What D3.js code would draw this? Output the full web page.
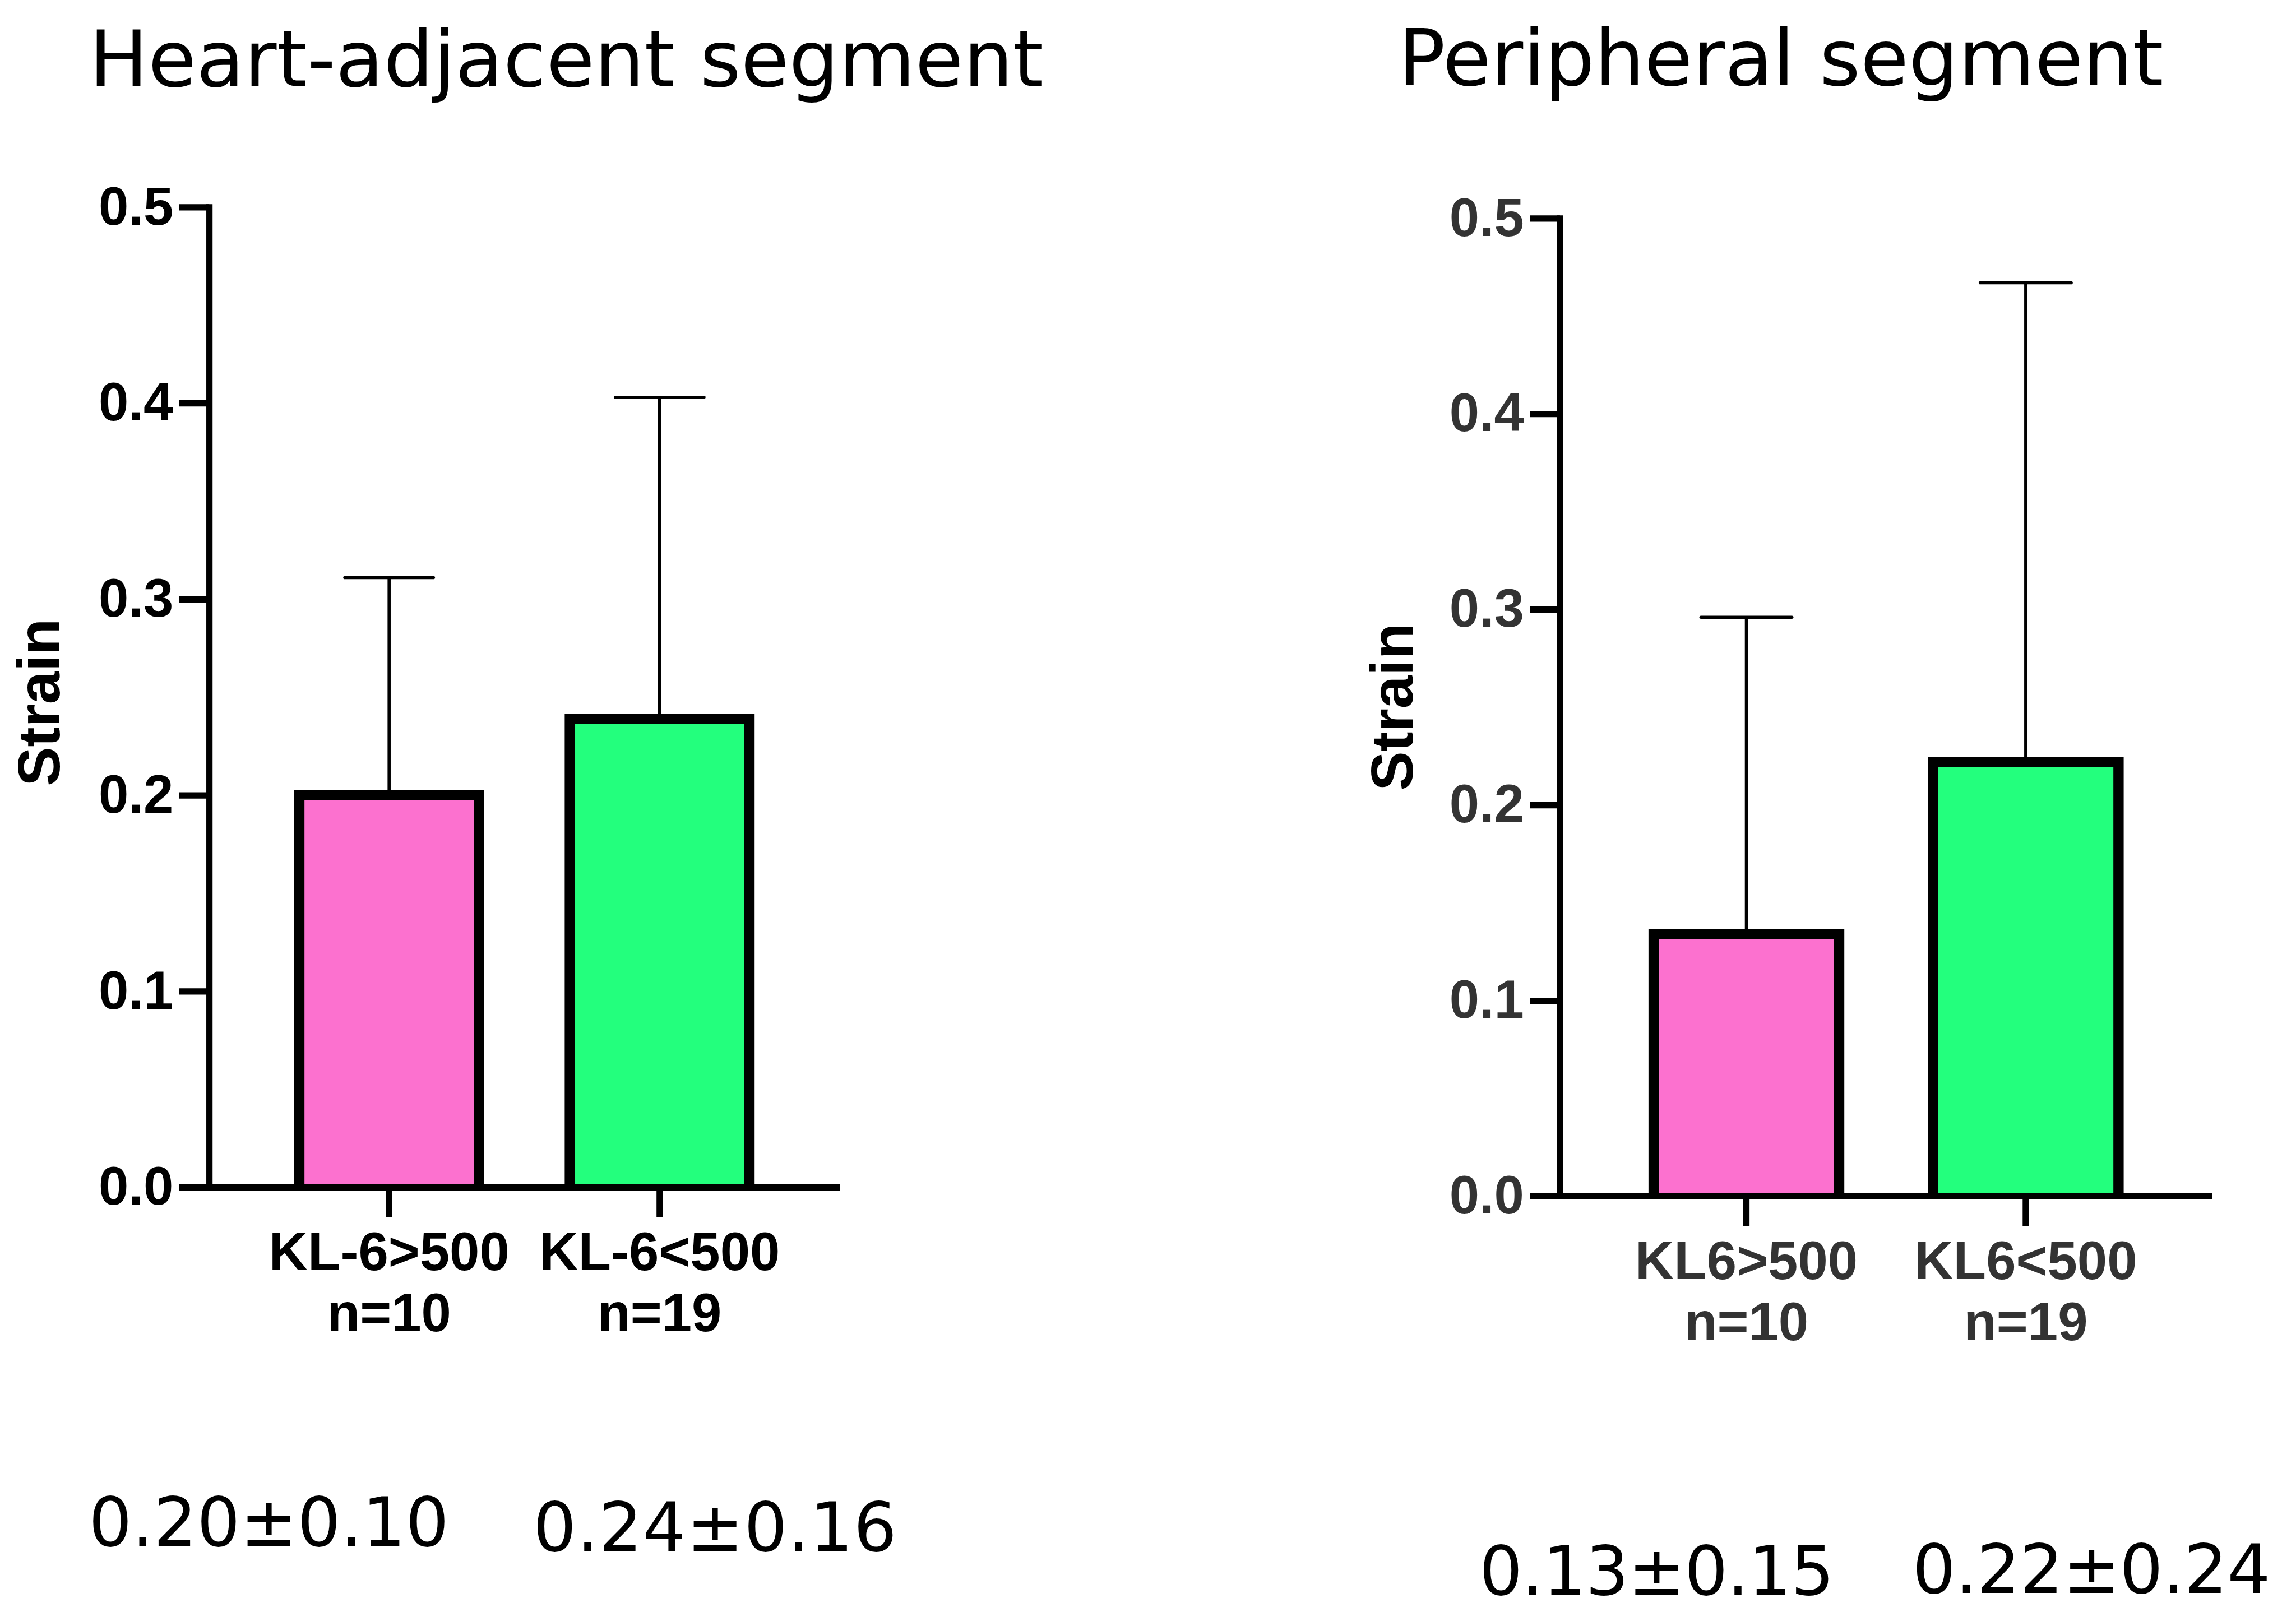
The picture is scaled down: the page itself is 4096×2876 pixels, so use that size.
<!DOCTYPE html>
<html>
<head>
  <meta charset="utf-8">
  <title>Strain by KL-6</title>
  <style>
    html, body { margin: 0; padding: 0; background: #fff; }
    svg { display: block; }
  </style>
</head>
<body>
  <script src="https://d3js.org/d3.v7.min.js"></script>
  <script>
    // data
    const yTicks = [0, 0.1, 0.2, 0.3, 0.4, 0.5];
    const nLabels = ["n=10", "n=19"];
    const barColors = ["#FC71CF", "#23FF7D"];

    const heartCategories = ["KL-6>500", "KL-6<500"];
    const heartMeans = [0.200, 0.239];
    const heartSD = [0.111, 0.164];
    const heartSummary = ["0.20±0.10", "0.24±0.16"];

    const periCategories = ["KL6>500", "KL6<500"];
    const periMeans = [0.134, 0.222];
    const periSD = [0.162, 0.245];
    const periSummary = ["0.13±0.15", "0.22±0.24"];

    // drawn in the reference's own pixel space, viewBox scales it to the window
    const svg = d3.select("body").append("svg")
      .attr("width", 4096).attr("height", 2876)
      .attr("viewBox", "0 0 5125 3598");

    const panels = [
      {
        title: "Heart-adjacent segment", titleX: 199, titleY: 193,
        categories: heartCategories, means: heartMeans, sds: heartSD, summary: heartSummary,
        summaryPos: [[198, 3450, 804], [1190, 3462, 812]],
        axisX: 467, axisEnd: 1874, y0: 2650, y1: 462,
        padIn: 0.298, padOut: 0.314, capW: 198,
        strainX: 133, strainY: 1568, textColor: "#000"
      },
      {
        title: "Peripheral segment", titleX: 3121, titleY: 190,
        categories: periCategories, means: periMeans, sds: periSD, summary: periSummary,
        summaryPos: [[3302, 3560, 792], [4269, 3556, 799]],
        axisX: 3482, axisEnd: 4938, y0: 2670, y1: 487,
        padIn: 0.299, padOut: 0.317, capW: 203,
        strainX: 3153, strainY: 1578, textColor: "#333"
      }
    ];

    const border = 23;

    panels.forEach(p => {
      const g = svg.append("g");
      const y = d3.scaleLinear().domain([0, 0.5]).range([p.y0, p.y1]);
      const x = d3.scaleBand().domain(p.categories)
        .range([p.axisX, p.axisEnd])
        .paddingInner(p.padIn).paddingOuter(p.padOut);
      const cx = c => x(c) + x.bandwidth() / 2;

      const rows = p.categories.map((c, i) => ({
        c, mean: p.means[i], sd: p.sds[i], color: barColors[i]
      }));

      // error bars (upper only)
      g.selectAll(".err").data(rows).join("line")
        .attr("x1", d => cx(d.c)).attr("x2", d => cx(d.c))
        .attr("y1", d => y(d.mean)).attr("y2", d => y(d.mean + d.sd))
        .attr("stroke", "#000").attr("stroke-width", 7);
      g.selectAll(".cap").data(rows).join("line")
        .attr("x1", d => cx(d.c) - p.capW / 2).attr("x2", d => cx(d.c) + p.capW / 2)
        .attr("y1", d => y(d.mean + d.sd)).attr("y2", d => y(d.mean + d.sd))
        .attr("stroke", "#000").attr("stroke-width", 7).attr("stroke-linecap", "round");

      // bars: fill, then three-sided border
      const bl = d => x(d.c) + border / 2;
      const br = d => x(d.c) + x.bandwidth() - border / 2;
      g.selectAll(".bar").data(rows).join("rect")
        .attr("x", bl).attr("width", d => br(d) - bl(d))
        .attr("y", d => y(d.mean)).attr("height", d => y(0) - y(d.mean))
        .attr("fill", d => d.color);
      g.selectAll(".edge").data(rows).join("path")
        .attr("d", d => `M${bl(d)},${y(0)}V${y(d.mean)}H${br(d)}V${y(0)}`)
        .attr("fill", "none").attr("stroke", "#000").attr("stroke-width", border)
        .attr("stroke-linejoin", "miter");

      // y axis
      const ya = g.append("g")
        .attr("transform", `translate(${p.axisX},0)`)
        .call(d3.axisLeft(y).tickValues(yTicks).tickFormat(d3.format(".1f"))
          .tickSize(67).tickSizeOuter(0).tickPadding(13));
      ya.select(".domain").attr("stroke-width", 14).attr("stroke-linecap", "square");
      ya.selectAll(".tick line").attr("stroke-width", 14);
      ya.selectAll(".tick text")
        .attr("font-family", "'Liberation Sans', Arial, sans-serif")
        .attr("font-weight", "bold").attr("font-size", 120)
        .attr("fill", p.textColor);

      // x axis
      const xa = g.append("g")
        .attr("transform", `translate(0,${p.y0})`)
        .call(d3.axisBottom(x).tickSize(67).tickSizeOuter(0));
      xa.select(".domain").attr("stroke-width", 14);
      xa.selectAll(".tick line").attr("stroke-width", 14);
      xa.selectAll(".tick text").each(function (d, i) {
        const t = d3.select(this).text(null)
          .attr("y", 185).attr("dy", null)
          .attr("font-family", "'Liberation Sans', Arial, sans-serif")
          .attr("font-weight", "bold").attr("font-size", 120)
          .attr("fill", p.textColor);
        t.append("tspan").attr("x", 0).text(d);
        t.append("tspan").attr("x", 0).attr("dy", 136).text(nLabels[i]);
      });

      // axis title
      svg.append("text")
        .attr("transform", `translate(${p.strainX},${p.strainY}) rotate(-90)`)
        .attr("text-anchor", "middle")
        .attr("font-family", "'Liberation Sans', Arial, sans-serif")
        .attr("font-weight", "bold").attr("font-size", 132)
        .attr("fill", "#000")
        .text("Strain");

      // panel title
      svg.append("text")
        .attr("x", p.titleX).attr("y", p.titleY)
        .attr("font-family", "'DejaVu Sans', sans-serif")
        .attr("font-size", 175).attr("fill", "#000")
        .text(p.title);

      // mean ± SD notes
      p.summary.forEach((s, i) => {
        const [sx, sy, len] = p.summaryPos[i];
        svg.append("text")
          .attr("x", sx).attr("y", sy)
          .attr("font-family", "'DejaVu Sans', sans-serif")
          .attr("font-size", 152).attr("fill", "#000")
          .attr("textLength", len).attr("lengthAdjust", "spacing")
          .text(s);
      });
    });
  </script>
</body>
</html>
